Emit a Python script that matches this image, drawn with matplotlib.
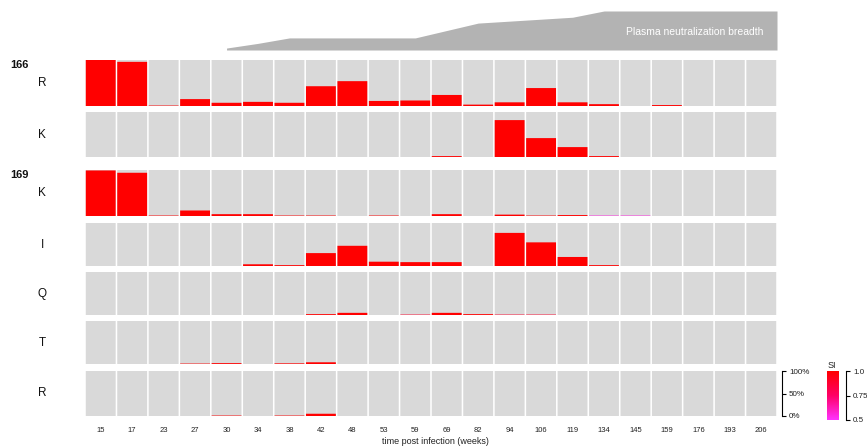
import numpy as np
import matplotlib
matplotlib.use("Agg")
import matplotlib.pyplot as plt
from matplotlib.colors import LinearSegmentedColormap, Normalize

plt.rcParams['font.family'] = ['Liberation Sans', 'DejaVu Sans']

# Sampling time points (weeks post infection)
weeks = [15, 17, 23, 27, 30, 34, 38, 42, 48, 53, 59, 69, 82, 94, 106, 119,
         134, 145, 159, 176, 193, 206]

# Residue frequencies per position / amino acid
freq_166_R = [1.0, 0.96, 0.01, 0.15, 0.07, 0.09, 0.07, 0.43, 0.54, 0.11, 0.12, 0.24,
              0.03, 0.08, 0.39, 0.08, 0.04, 0, 0.02, 0, 0, 0]
freq_166_K = [0, 0, 0, 0, 0, 0, 0, 0, 0, 0, 0, 0.02, 0, 0.82, 0.42, 0.22, 0.02,
              0, 0, 0, 0, 0]
freq_169_K = [0.99, 0.94, 0.01, 0.12, 0.04, 0.04, 0.01, 0.01, 0, 0.01, 0, 0.04,
              0, 0.03, 0.01, 0.02, 0.01, 0.01, 0, 0, 0, 0]
freq_169_I = [0, 0, 0, 0, 0, 0.04, 0.02, 0.30, 0.47, 0.10, 0.09, 0.09, 0, 0.77,
              0.55, 0.21, 0.02, 0, 0, 0, 0, 0]
freq_169_Q = [0, 0, 0, 0, 0, 0, 0, 0.02, 0.05, 0, 0.01, 0.05, 0.02, 0.01, 0.01,
              0, 0, 0, 0, 0, 0, 0]
freq_169_T = [0, 0, 0, 0.01, 0.02, 0, 0.015, 0.04, 0, 0, 0, 0, 0, 0, 0, 0, 0,
              0, 0, 0, 0, 0]
freq_169_R = [0, 0, 0, 0, 0.01, 0, 0.01, 0.05, 0, 0, 0, 0, 0, 0, 0, 0, 0, 0,
              0, 0, 0, 0]

# Selection index per bar
si_166_R = [1.0] * 22
si_166_K = [1.0] * 22
si_169_K = [1.0] * 16 + [0.55, 0.55] + [1.0] * 4
si_169_I = [1.0] * 22
si_169_Q = [1.0] * 10 + [0.9] + [1.0] * 2 + [0.9, 0.9] + [1.0] * 7
si_169_T = [1.0] * 22
si_169_R = [1.0] * 22

# Plasma neutralization breadth (starting at week 30)
breadth_start = 4
breadth = [0.05, 0.17, 0.31, 0.31, 0.31, 0.31, 0.31, 0.50, 0.69, 0.74, 0.79, 0.84,
           1.0, 1.0, 1.0, 1.0, 1.0, 1.0]

rows = [
    ("166", "R", freq_166_R, si_166_R, 60, 106),
    (None, "K", freq_166_K, si_166_K, 112, 157),
    ("169", "K", freq_169_K, si_169_K, 170, 216),
    (None, "I", freq_169_I, si_169_I, 223, 266),
    (None, "Q", freq_169_Q, si_169_Q, 272, 315),
    (None, "T", freq_169_T, si_169_T, 321, 364),
    (None, "R", freq_169_R, si_169_R, 371, 416),
]

W, H = 867, 447
fig = plt.figure(figsize=(W / 100, H / 100), dpi=100)

def box(x0, y0, x1, y1):
    return [x0 / W, 1 - y1 / H, (x1 - x0) / W, (y1 - y0) / H]

cmap = LinearSegmentedColormap.from_list("si", ["#FF33FF", "#FF0066", "#FF0000"])
norm = Normalize(0.5, 1.0)

PX0, PX1 = 85, 777
n = len(weeks)
xs = np.arange(n) + 0.5

for group, aa, fr, si, y0, y1 in rows:
    ax = fig.add_axes(box(PX0, y0, PX1, y1))
    ax.bar(xs, np.ones(n), width=0.95, color="#D9D9D9", edgecolor="none",
           linewidth=0, snap=False)
    ax.bar(xs, fr, width=0.95, color=cmap(norm(np.array(si))), edgecolor="none",
           linewidth=0, snap=False)
    ax.set_xlim(0, n)
    ax.set_ylim(0, 1)
    ax.axis("off")
    yc = (y0 + y1) / 2
    fig.text(42 / W, 1 - yc / H, aa, ha="center", va="center", fontsize=8.5, color="#111111")
    if group:
        fig.text(10 / W, 1 - (y0 + 5) / H, group, ha="left", va="center",
                 fontsize=8, fontweight="bold", color="#111111")

# week tick labels
for i, w in enumerate(weeks):
    fig.text((PX0 + (i + 0.5) * (PX1 - PX0) / n) / W, 1 - 431 / H, str(w),
             ha="center", va="center", fontsize=5.5, color="#222222")
fig.text(435 / W, 1 - 441.5 / H, "time post infection (weeks)", ha="center",
         va="center", fontsize=6.5, color="#222222")

# breadth area
axb = fig.add_axes(box(PX0, 11, PX1, 50))
bx = np.arange(breadth_start, breadth_start + len(breadth)) + 0.5
bx = np.append(bx, n)
by = np.append(breadth, breadth[-1])
axb.fill_between(bx, 0, by, color="#B3B3B3", linewidth=0)
axb.set_xlim(0, n)
axb.set_ylim(0, 1)
axb.axis("off")
axb.text(0.98, 0.45, "Plasma neutralization breadth", transform=axb.transAxes,
         ha="right", va="center", color="white", fontsize=7.5)

# frequency scale bracket
axs = fig.add_axes(box(779, 371, 782, 416))
axs.set_ylim(0, 1)
axs.set_xticks([])
for s in ("left", "top", "bottom"):
    axs.spines[s].set_visible(False)
axs.patch.set_visible(False)
axs.yaxis.tick_right()
axs.set_yticks([0, 0.5, 1.0])
axs.set_yticklabels(["0%", "50%", "100%"])
axs.tick_params(axis="y", length=3, width=0.8, labelsize=5.8, pad=2, labelcolor="#222222")
axs.spines["right"].set_linewidth(0.8)

# SI colour bar
axc = fig.add_axes(box(827, 371, 839, 420))
grad = np.linspace(0.5, 1.0, 200).reshape(-1, 1)
axc.imshow(grad, aspect="auto", cmap=cmap, norm=norm, origin="lower",
           extent=[0, 1, 0.5, 1.0])
axc.axis("off")
fig.text(832 / W, 1 - 366 / H, "SI", ha="center", va="center", fontsize=6.5, color="#222222")

axk = fig.add_axes(box(843, 371, 846, 420))
axk.set_ylim(0.5, 1.0)
axk.set_xticks([])
for s in ("left", "top", "bottom"):
    axk.spines[s].set_visible(False)
axk.patch.set_visible(False)
axk.yaxis.tick_right()
axk.set_yticks([0.5, 0.75, 1.0])
axk.set_yticklabels(["0.5", "0.75", "1.0"])
axk.tick_params(axis="y", length=3, width=0.8, labelsize=5.8, pad=2, labelcolor="#222222")
axk.spines["right"].set_linewidth(0.8)

fig.savefig("out.png", dpi=100)
